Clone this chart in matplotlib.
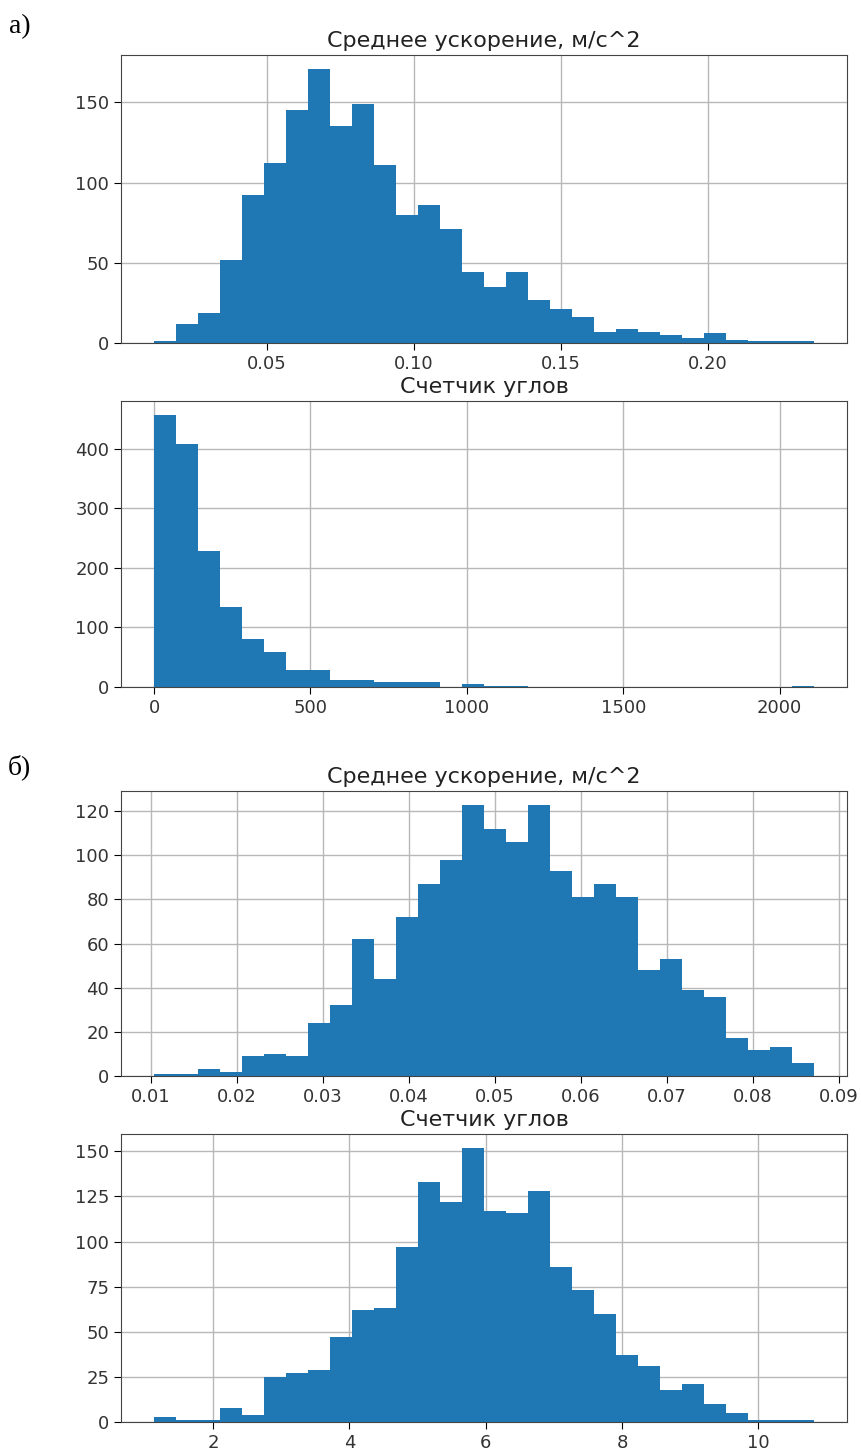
import numpy as np
import matplotlib
matplotlib.use('Agg')
import matplotlib.pyplot as plt
from matplotlib.ticker import MultipleLocator

title_acc = 'Среднее ускорение, м/с^2'
title_ang = 'Счетчик углов'

# а) range of the data and counts per bin (30 bins)
acc_a_range = (0.0115, 0.236)
acc_a_counts = [1, 12, 19, 52, 92, 112, 145, 171, 135, 149,
                111, 80, 86, 71, 44, 35, 44, 27, 21, 16,
                7, 9, 7, 5, 3, 6, 2, 1, 1, 1]

ang_a_range = (0, 2110)
ang_a_counts = [457, 408, 228, 134, 80, 59, 28, 28, 11, 11,
                9, 9, 9, 0, 5, 2, 2, 0, 0, 0,
                0, 0, 0, 0, 0, 0, 0, 0, 0, 1]

# б)
acc_b_range = (0.0104, 0.0871)
acc_b_counts = [1, 1, 3, 2, 9, 10, 9, 24, 32, 62,
                44, 72, 87, 98, 123, 112, 106, 123, 93, 81,
                87, 81, 48, 53, 39, 36, 17, 12, 13, 6]

ang_b_range = (1.135, 10.815)
ang_b_counts = [3, 1, 1, 8, 4, 25, 27, 29, 47, 62,
                63, 97, 133, 122, 152, 117, 116, 128, 86, 73,
                60, 37, 31, 18, 21, 10, 5, 1, 1, 1]

W, H = 861, 1452
fig = plt.figure(figsize=(W / 100, H / 100), dpi=100)


def panel(top, bottom, rng, counts, title, ystep):
    ax = fig.add_axes([121 / W, (H - bottom) / H, 726 / W, (bottom - top) / H])
    edges = np.linspace(rng[0], rng[1], len(counts) + 1)
    ax.hist(edges[:-1], bins=edges, weights=counts, color='#1f77b4', zorder=2)
    ax.yaxis.set_major_locator(MultipleLocator(ystep))
    ax.grid(True, color='#b8b8b8', linewidth=1.0, zorder=0)
    ax.set_axisbelow(True)
    ax.set_title(title, fontsize=16, color='#222222')
    ax.tick_params(labelsize=13, labelcolor='#333333', length=5)
    for s in ax.spines.values():
        s.set_color('#444444')
    return ax


panel(55, 343, acc_a_range, acc_a_counts, title_acc, 50)
panel(401, 687, ang_a_range, ang_a_counts, title_ang, 100)
panel(791, 1076, acc_b_range, acc_b_counts, title_acc, 20)
panel(1134, 1422, ang_b_range, ang_b_counts, title_ang, 25)

fig.text(9 / W, 1 - 27 / H, 'а)', family='Liberation Serif', fontsize=20, va='center')
fig.text(8 / W, 1 - 767 / H, 'б)', family='Liberation Serif', fontsize=20, va='center')

fig.savefig('out.png', dpi=100)
